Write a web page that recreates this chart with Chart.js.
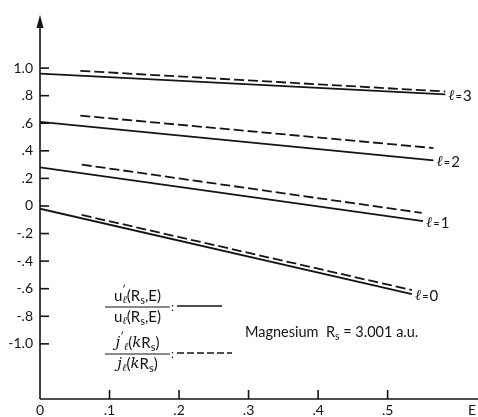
<!DOCTYPE html>
<html>
<head>
<meta charset="utf-8">
<script src="https://cdn.jsdelivr.net/npm/chart.js@4"></script>
<style>
  body { margin: 0; background: #fff; }
  canvas { display: block; }
</style>
</head>
<body>
<canvas id="graficoCanvas" width="478" height="417"></canvas>
<script>
// values (E in a.u., log. derivative)
const ells = ['0', '1', '2', '3'];
const solidStartE = [0, 0, 0, 0];
const solidStartY = [-0.02, 0.28, 0.61, 0.96];
const solidEndE = [0.535, 0.551, 0.566, 0.583];
const solidEndY = [-0.64, -0.11, 0.33, 0.81];
const dashedStartE = [0.060, 0.060, 0.058, 0.058];
const dashedStartY = [-0.065, 0.30, 0.655, 0.98];
const dashedEndE = [0.535, 0.549, 0.566, 0.583];
const dashedEndY = [-0.61, -0.05, 0.42, 0.83];

const yTicks = [1.0, 0.8, 0.6, 0.4, 0.2, 0, -0.2, -0.4, -0.6, -0.8, -1.0];
const yTickLabels = ['1.0', '.8', '.6', '.4', '.2', '0', '-.2', '-.4', '-.6', '-.8', '-1.0'];
const xTicks = [0, 0.1, 0.2, 0.3, 0.4, 0.5];
const xTickLabels = ['0', '.1', '.2', '.3', '.4', '.5'];

const ink = '#141414';
const sans = 'Lato, "DejaVu Sans", sans-serif';

const datasets = [];
ells.forEach(function (l, i) {
    datasets.push({
        label: 'u l=' + l,
        data: [{ x: solidStartE[i], y: solidStartY[i] }, { x: solidEndE[i], y: solidEndY[i] }],
        borderColor: ink,
        borderWidth: 1.8,
        pointRadius: 0
    });
    datasets.push({
        label: 'j l=' + l,
        data: [{ x: dashedStartE[i], y: dashedStartY[i] }, { x: dashedEndE[i], y: dashedEndY[i] }],
        borderColor: ink,
        borderWidth: 1.8,
        borderDash: [10, 4],
        pointRadius: 0
    });
});

// draws a run of text pieces (sub/sup/italic), returns width
function drawRun(c, x, y, pieces, size, measureOnly) {
    let cx = x;
    pieces.forEach(function (p) {
        const fs = p.size || ((p.sub || p.sup) ? size * 0.72 : size);
        const font = (p.italic ? 'italic ' : '') + fs + 'px ' + (p.serif ? '"DejaVu Serif", serif' : sans);
        c.font = font;
        const w = c.measureText(p.t).width;
        let dy = 0;
        if (p.sub) dy = size * 0.3;
        if (p.sup) dy = -size * 0.35;
        if (!measureOnly) c.fillText(p.t, cx, y + dy);
        if (!p.noAdvance) cx += w + (p.gap || 0);
    });
    return cx - x;
}

const axisPlugin = {
    id: 'axisPlugin',
    afterDraw(chart) {
        const c = chart.ctx;
        const xs = chart.scales.x;
        const ys = chart.scales.y;
        const area = chart.chartArea;
        const x0 = xs.getPixelForValue(0);
        const yb = area.bottom;
        c.save();
        c.strokeStyle = ink;
        c.fillStyle = ink;
        c.lineWidth = 1.6;

        // axes
        c.beginPath();
        c.moveTo(x0, yb);
        c.lineTo(x0, area.top + 8);
        c.moveTo(x0, yb);
        c.lineTo(area.right, yb);
        c.stroke();
        c.beginPath();
        c.moveTo(x0, area.top);
        c.lineTo(x0 - 3.5, area.top + 13);
        c.lineTo(x0 + 3.5, area.top + 13);
        c.closePath();
        c.fill();

        // ticks + labels
        c.font = '14px ' + sans;
        c.textBaseline = 'middle';
        c.textAlign = 'right';
        yTicks.forEach(function (v, i) {
            const py = ys.getPixelForValue(v);
            c.beginPath();
            c.moveTo(x0, py);
            c.lineTo(x0 + 9, py);
            c.stroke();
            c.fillText(yTickLabels[i], 33, py);
        });
        c.textAlign = 'center';
        xTicks.forEach(function (v, i) {
            const px = xs.getPixelForValue(v);
            if (v > 0) {
                c.beginPath();
                c.moveTo(px, yb);
                c.lineTo(px, yb - 9);
                c.stroke();
            }
            c.fillText(xTickLabels[i], px, 410);
        });
        c.fillText('E', 472, 410);

        // l labels at the line ends
        c.textAlign = 'left';
        ells.forEach(function (l, i) {
            const px = xs.getPixelForValue(solidEndE[i]) + 3;
            const py = ys.getPixelForValue(solidEndY[i]) + 2;
            drawRun(c, px, py, [
                { t: 'ℓ', italic: true, serif: true, size: 15, gap: 1 },
                { t: '=', size: 11, gap: 1 },
                { t: l, size: 15 }
            ], 15);
        });

        // legend fractions
        const num1 = [{ t: 'u' }, { t: '′', sup: true, noAdvance: true }, { t: 'ℓ', sub: true, italic: true, serif: true },
            { t: '(R' }, { t: 's', sub: true }, { t: ',E)' }];
        const den1 = [{ t: 'u' }, { t: 'ℓ', sub: true, italic: true, serif: true },
            { t: '(R' }, { t: 's', sub: true }, { t: ',E)' }];
        const num2 = [{ t: 'j', italic: true, serif: true }, { t: '′', sup: true }, { t: 'ℓ', sub: true, italic: true, serif: true },
            { t: '(' }, { t: 'k', italic: true, serif: true }, { t: 'R' }, { t: 's', sub: true }, { t: ')' }];
        const den2 = [{ t: 'j', italic: true, serif: true }, { t: 'ℓ', sub: true, italic: true, serif: true },
            { t: '(' }, { t: 'k', italic: true, serif: true }, { t: 'R' }, { t: 's', sub: true }, { t: ')' }];

        function fraction(num, den, yBar) {
            const left = 105, right = 170;
            const wn = drawRun(c, 0, 0, num, 15, true);
            const wd = drawRun(c, 0, 0, den, 15, true);
            drawRun(c, (left + right - wn) / 2, yBar - 11, num, 15);
            drawRun(c, (left + right - wd) / 2, yBar + 10, den, 15);
            c.lineWidth = 1.2;
            c.beginPath();
            c.moveTo(left, yBar);
            c.lineTo(right, yBar);
            c.stroke();
            c.font = '12px ' + sans;
            c.fillText(':', 171, yBar);
        }
        fraction(num1, den1, 307);
        fraction(num2, den2, 354);

        c.lineWidth = 1.6;
        c.beginPath();
        c.moveTo(177, 306);
        c.lineTo(222, 306);
        c.stroke();
        c.setLineDash([7, 3]);
        c.beginPath();
        c.moveTo(177, 353);
        c.lineTo(232, 353);
        c.stroke();
        c.setLineDash([]);

        drawRun(c, 245, 332, [
            { t: 'Magnesium  R' }, { t: 's', sub: true }, { t: ' = 3.001 a.u.' }
        ], 14.5);
        c.restore();
    }
};

const ctx = document.getElementById('graficoCanvas').getContext('2d');
new Chart(ctx, {
    type: 'line',
    data: { datasets: datasets },
    options: {
        responsive: false,
        animation: false,
        devicePixelRatio: 1,
        layout: { padding: { left: 40, top: 15, right: 0, bottom: 18 } },
        scales: {
            x: { type: 'linear', min: 0, max: 0.63, display: false },
            y: { type: 'linear', min: -1.4, max: 1.385, display: false }
        },
        plugins: {
            legend: { display: false },
            tooltip: { enabled: false }
        }
    },
    plugins: [axisPlugin]
});
</script>
</body>
</html>
